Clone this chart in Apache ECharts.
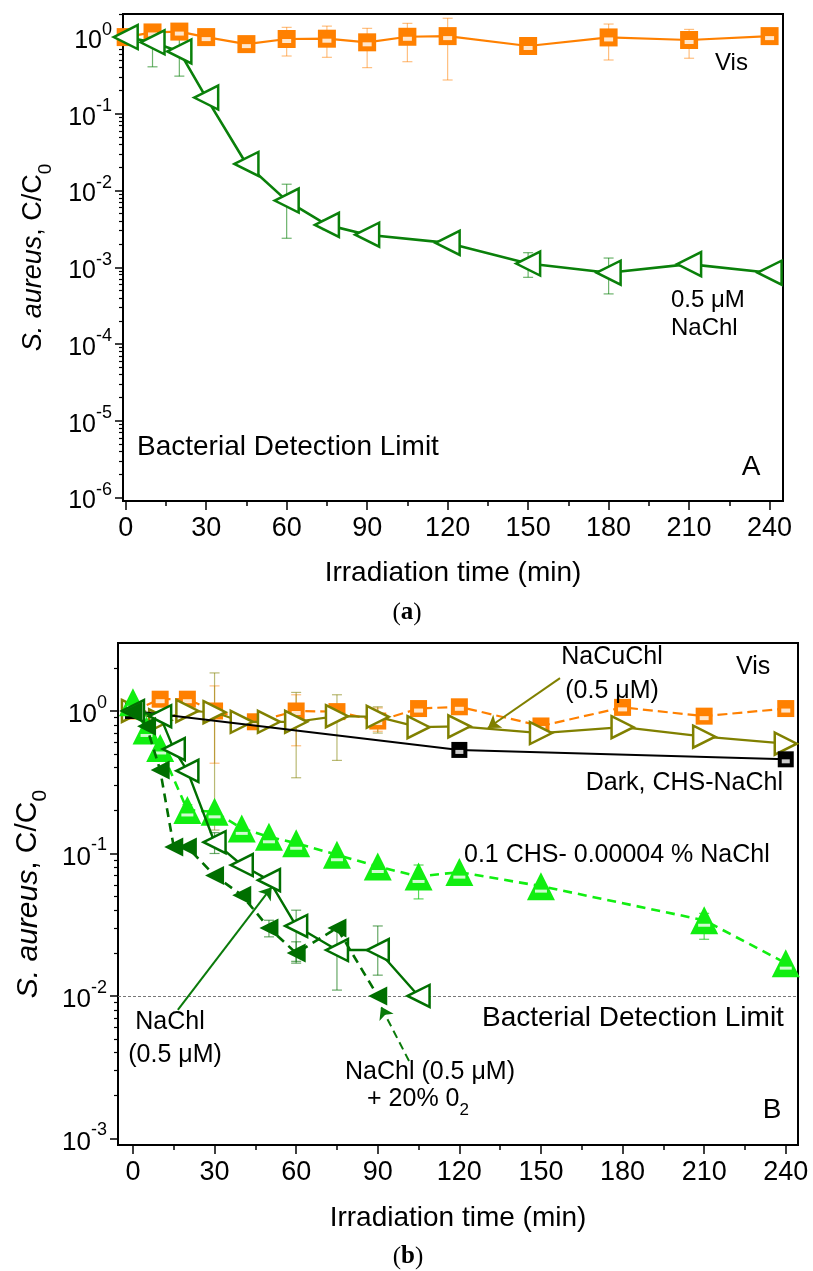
<!DOCTYPE html>
<html>
<head>
<meta charset="utf-8">
<script src="https://cdn.jsdelivr.net/npm/echarts@6/dist/echarts.min.js"></script>
<style>
html,body{margin:0;padding:0;background:#fff;}
#chart{width:813px;height:1271px;}
</style>
</head>
<body>
<div id="chart"></div>
<script>
// ---------- tick values ----------
const ticksX = [0, 30, 60, 90, 120, 150, 180, 210, 240];
const minorTicksX = [15, 45, 75, 105, 135, 165, 195, 225];
const decadesA = [1e-6, 1e-5, 1e-4, 1e-3, 1e-2, 1e-1, 1];
const decadesB = [1e-3, 1e-2, 1e-1, 1];
const detectionLimitA = 1e-5;
const detectionLimitB = 1e-2;

// ---------- Panel A data ----------
const tVisA = [0, 10, 20, 30, 45, 60, 75, 90, 105, 120, 150, 180, 210, 240];
const visA = [1.0, 1.15, 1.18, 1.0, 0.81, 0.945, 0.953, 0.855, 1.01, 1.03, 0.765, 0.99, 0.917, 1.03];
const errVisA = [[45, 0.75, 0.86], [60, 0.567, 1.34], [75, 0.545, 1.39], [90, 0.40, 1.30], [105, 0.478, 1.51], [120, 0.276, 1.76], [180, 0.503, 1.48], [210, 0.53, 1.26]];
const tNaChlA = [0, 10, 20, 30, 45, 60, 75, 90, 120, 150, 180, 210, 240];
const naChlA = [1.0, 0.855, 0.65, 0.163, 0.0222, 0.0074, 0.00357, 0.00266, 0.00208, 0.00112, 0.00085, 0.0011, 0.00085];
const errNaChlA = [[10, 0.41, 1.26], [20, 0.31, 0.96], [60, 0.00239, 0.0121], [75, 0.0031, 0.0041], [150, 0.00074, 0.00155], [180, 0.00045, 0.00132], [210, 0.001, 0.00125]];

// ---------- Panel B data ----------
const tVisB = [0, 10, 20, 30, 45, 60, 75, 90, 105, 120, 150, 180, 210, 240];
const visB = [1.0, 1.21, 1.21, 1.0, 0.84, 1.0, 0.99, 0.85, 1.04, 1.07, 0.785, 1.06, 0.92, 1.04];
const errVisB = [[10, 1.1, 1.35], [30, 0.43, 1.5], [60, 0.57, 1.3], [90, 0.72, 1.05]];
const tCuB = [0, 10, 20, 30, 40, 50, 60, 75, 90, 105, 120, 150, 180, 210, 240];
const cuB = [1.0, 0.86, 1.0, 0.98, 0.84, 0.84, 0.84, 0.92, 0.91, 0.77, 0.78, 0.70, 0.77, 0.66, 0.59];
const errCuB = [[30, 0.146, 1.85], [60, 0.34, 1.35], [75, 0.45, 1.3], [90, 0.70, 1.07]];
const tDarkB = [0, 120, 240];
const darkB = [1.0, 0.533, 0.458];
const tChsB = [0, 5, 10, 20, 30, 40, 50, 60, 75, 90, 105, 120, 150, 210, 240];
const chsB = [1.15, 0.73, 0.55, 0.202, 0.196, 0.15, 0.131, 0.118, 0.098, 0.081, 0.069, 0.074, 0.059, 0.034, 0.017];
const errChsB = [[20, 0.185, 0.22], [105, 0.048, 0.083], [210, 0.025, 0.038]];
const tNaChlB = [0, 10, 15, 20, 30, 40, 50, 60, 75, 90, 105];
const naChlB = [1.0, 0.92, 0.54, 0.38, 0.12, 0.083, 0.065, 0.031, 0.021, 0.021, 0.01];
const errNaChlB = [[30, 0.10, 0.14], [60, 0.017, 0.040], [75, 0.011, 0.029], [90, 0.014, 0.031]];
const tO2B = [0, 5, 10, 15, 20, 30, 40, 50, 60, 75, 90];
const o2B = [1.0, 0.78, 0.385, 0.111, 0.111, 0.070, 0.051, 0.030, 0.020, 0.030, 0.010];
const errO2B = [[50, 0.026, 0.034], [60, 0.0175, 0.024]];

// annotation arrows (data coordinates, panel B): [start, tip]
const arrowCuChl = [[157, 1.70], [130.5, 0.76]];
const arrowNaChl = [[16.5, 0.0080], [51, 0.058]];
const arrowO2 = [[101.5, 0.0035], [91.2, 0.0084]];

// ---------- styling ----------
const FONT = "'Liberation Sans', Arial, sans-serif";
const C_OR = '#ff8000', C_GA = '#0a800a', C_OL = '#808000', C_LG = '#11ee11', C_DG = '#006f00';
const TRI_L = 'path://M0,10 L20,0 L20,20 Z';
const TRI_R = 'path://M0,0 L20,10 L0,20 Z';

const zip = (t, v) => t.map((x, i) => [x, v[i]]);

function supFmt(v) {
  const e = Math.round(Math.log10(v));
  return '{b|10}{s|' + e + '}';
}
const supRich = (fs) => ({
  b: { fontSize: fs, fontFamily: FONT, color: '#000', verticalAlign: 'bottom', lineHeight: fs + 8 },
  s: { fontSize: Math.round(fs * 0.7), fontFamily: FONT, color: '#000', verticalAlign: 'top', lineHeight: fs + 8 }
});
const yTitleRich = (fs) => ({
  i: { fontSize: fs, fontFamily: FONT, fontStyle: 'italic', color: '#000', verticalAlign: 'top', lineHeight: fs + 8 },
  n: { fontSize: fs, fontFamily: FONT, color: '#000', verticalAlign: 'top', lineHeight: fs + 8 },
  sub: { fontSize: Math.round(fs * 0.7), fontFamily: FONT, color: '#000', verticalAlign: 'bottom', lineHeight: fs + 8 }
});

function minorLog(lo, hi, extra) {
  const out = [];
  for (let e = lo; e < hi; e++) for (let m = 2; m <= 9; m++) out.push(m * Math.pow(10, e));
  return out.concat(extra || []);
}

const gridA = { left: 123, top: 14, width: 660, height: 487 };
const gridB = { left: 118, top: 643, width: 680, height: 502 };
const xRangeA = [-1, 245], xRangeB = [-5.5, 244.5];
const yRangeA = [0.9e-6, 2], yRangeB = [0.9e-3, 3];

function mainX(gi, rng, xFs, gap) {
  return {
    type: 'value', gridIndex: gi, min: rng[0], max: rng[1],
    axisLine: { show: true, onZero: false, lineStyle: { color: '#000', width: 2 } },
    axisTick: { show: true, length: 9, lineStyle: { color: '#000', width: 1.5 }, customValues: ticksX },
    axisLabel: { show: true, customValues: ticksX, margin: 14, fontSize: xFs, fontFamily: FONT, color: '#000' },
    splitLine: { show: false },
    name: 'Irradiation time (min)', nameLocation: 'middle', nameGap: gap,
    nameTextStyle: { fontSize: 28, fontFamily: FONT, color: '#000' }
  };
}
function minorX(gi, rng) {
  return {
    type: 'value', gridIndex: gi, min: rng[0], max: rng[1],
    axisLine: { show: false, onZero: false },
    axisTick: { show: true, length: 5, lineStyle: { color: '#000', width: 1.5 }, customValues: minorTicksX },
    axisLabel: { show: false }, splitLine: { show: false }
  };
}
function mainY(gi, rng, decs, fs, gap, tfs) {
  return {
    type: 'log', logBase: 10, gridIndex: gi, min: rng[0], max: rng[1],
    axisLine: { show: true, onZero: false, lineStyle: { color: '#000', width: 2 } },
    axisTick: { show: true, length: 8, lineStyle: { color: '#000', width: 1.5 }, customValues: decs },
    axisLabel: { show: true, customValues: decs, margin: 11, formatter: supFmt, rich: supRich(fs) },
    splitLine: { show: false },
    name: '{i|S. aureus}{n|, C/C}{sub|0}', nameLocation: 'middle', nameGap: gap, nameRotate: 90,
    nameTextStyle: { rich: yTitleRich(tfs) }
  };
}
function minorY(gi, rng, ticks) {
  return {
    type: 'log', logBase: 10, gridIndex: gi, min: rng[0], max: rng[1],
    axisLine: { show: false, onZero: false },
    axisTick: { show: true, length: 4, lineStyle: { color: '#000', width: 1.2 }, customValues: ticks },
    axisLabel: { show: false }, splitLine: { show: false }
  };
}

function lineSeries(ai, name, data, color, symbol, size, opts) {
  opts = opts || {};
  return {
    type: 'line', name: name, xAxisIndex: ai, yAxisIndex: ai, data: data,
    symbol: symbol, symbolSize: size, showSymbol: true, z: opts.z || 3,
    lineStyle: { color: color, width: opts.lw || 2.2, type: opts.dash || 'solid' },
    itemStyle: opts.open ? { color: '#fff', borderColor: color, borderWidth: 2.5 } : { color: color, borderColor: color, borderWidth: 0 },
    markLine: opts.markLine, animation: false
  };
}
function innerMark(ai, data, size, offset, z) {
  return {
    type: 'scatter', xAxisIndex: ai, yAxisIndex: ai, data: data, symbol: 'rect',
    symbolSize: size, symbolOffset: offset, z: z || 4, silent: true,
    itemStyle: { color: '#fff' }, animation: false
  };
}
function errSeries(ai, data, color) {
  return {
    type: 'custom', xAxisIndex: ai, yAxisIndex: ai, data: data, z: 2, silent: true,
    encode: { x: 0, y: [1, 2] }, animation: false,
    renderItem: function (params, api) {
      const x = api.value(0);
      const lo = api.coord([x, api.value(1)]);
      const hi = api.coord([x, api.value(2)]);
      const w = 5;
      const st = { stroke: color, lineWidth: 1.2 };
      return {
        type: 'group', children: [
          { type: 'line', shape: { x1: hi[0], y1: hi[1], x2: lo[0], y2: lo[1] }, style: st },
          { type: 'line', shape: { x1: hi[0] - w, y1: hi[1], x2: hi[0] + w, y2: hi[1] }, style: st },
          { type: 'line', shape: { x1: lo[0] - w, y1: lo[1], x2: lo[0] + w, y2: lo[1] }, style: st }
        ]
      };
    }
  };
}
function detLine(val) {
  return {
    silent: true, symbol: ['none', 'none'], label: { show: false },
    lineStyle: { color: '#777', type: [3, 2], width: 1 },
    data: [{ yAxis: val }]
  };
}
function arrowItem(a, color, dash) {
  return [
    { coord: a[0], lineStyle: { color: color, width: 2, type: dash ? [8, 5] : 'solid' } },
    { coord: a[1] }
  ];
}

const textStyle = (fs) => ({ font: fs + 'px ' + FONT, fill: '#000' });
function txt(x, y, s, fs, align) {
  return { type: 'text', x: x, y: y, z: 50, style: Object.assign(textStyle(fs), { text: s, align: align || 'left', verticalAlign: 'middle' }) };
}

const chart = echarts.init(document.getElementById('chart'), null, { renderer: 'canvas' });
const option = {
  animation: false,
  backgroundColor: '#fff',
  grid: [
    Object.assign({ show: true, borderColor: '#000', borderWidth: 2 }, gridA),
    Object.assign({ show: false }, gridA),
    Object.assign({ show: true, borderColor: '#000', borderWidth: 2 }, gridB),
    Object.assign({ show: false }, gridB)
  ],
  xAxis: [mainX(0, xRangeA, 27, 58), minorX(1, xRangeA), mainX(2, xRangeB, 27, 59), minorX(3, xRangeB)],
  yAxis: [
    mainY(0, yRangeA, decadesA, 25, 68, 27),
    minorY(1, yRangeA, minorLog(-6, 0, [2])),
    mainY(2, yRangeB, decadesB, 26, 66, 30),
    minorY(3, yRangeB, minorLog(-3, 0, [2]))
  ],
  series: [
    // ---- Panel A ----
    errSeries(0, errVisA, 'rgba(255,128,0,0.5)'),
    errSeries(0, errNaChlA, 'rgba(10,128,10,0.6)'),
    lineSeries(0, 'Vis', zip(tVisA, visA), C_OR, 'rect', 18, { z: 3, markLine: detLine(detectionLimitA) }),
    innerMark(0, zip(tVisA, visA), [9, 4], [0, 2], 4),
    lineSeries(0, '0.5 μM NaChl', zip(tNaChlA, naChlA), C_GA, TRI_L, 24, { open: true, lw: 2.6, z: 5 }),
    // ---- Panel B ----
    errSeries(2, errVisB, 'rgba(255,128,0,0.5)'),
    errSeries(2, errCuB, 'rgba(128,128,0,0.55)'),
    errSeries(2, errChsB, 'rgba(17,200,17,0.7)'),
    errSeries(2, errNaChlB, 'rgba(0,111,0,0.6)'),
    errSeries(2, errO2B, 'rgba(0,111,0,0.6)'),
    lineSeries(2, 'Vis', zip(tVisB, visB), C_OR, 'rect', 17, { dash: [10, 5], z: 3, markLine: detLine(detectionLimitB) }),
    innerMark(2, zip(tVisB, visB), [9, 4], [0, 2], 4),
    lineSeries(2, 'NaCuChl (0.5 μM)', zip(tCuB, cuB), C_OL, TRI_R, 22, { open: true, z: 5 }),
    lineSeries(2, 'Dark, CHS-NaChl', zip(tDarkB, darkB), '#000', 'rect', 16, { lw: 2, z: 6,
      markLine: { silent: true, symbol: ['none', 'arrow'], symbolSize: 12, label: { show: false },
        data: [arrowItem(arrowCuChl, C_OL, false), arrowItem(arrowNaChl, '#0a7a0a', false), arrowItem(arrowO2, '#0a7a0a', true)] } }),
    innerMark(2, zip(tDarkB, darkB), [8, 4], [0, 2], 7),
    lineSeries(2, '0.1 CHS- 0.00004 % NaChl', zip(tChsB, chsB), C_LG, 'triangle', 28, { dash: [9, 6], lw: 2.6, z: 8 }),
    innerMark(2, zip(tChsB, chsB), [12, 3], [0, 5], 9),
    lineSeries(2, 'NaChl (0.5 μM)', zip(tNaChlB, naChlB), C_DG, TRI_L, 22, { open: true, lw: 2.4, z: 10 }),
    lineSeries(2, 'NaChl (0.5 μM) + 20% O2', zip(tO2B, o2B), C_DG, TRI_L, 19, { dash: [9, 6], lw: 2.6, z: 11 })
  ],
  graphic: [
    // panel A
    txt(715, 63, 'Vis', 24),
    txt(671, 300, '0.5 μM', 24),
    txt(671, 328, 'NaChl', 24),
    txt(137, 447, 'Bacterial Detection Limit', 28),
    txt(751, 467, 'A', 28, 'center'),
    { type: 'text', x: 407, y: 613, style: { text: '({b|a})', font: "25px 'Liberation Serif', serif", fill: '#000', align: 'center', verticalAlign: 'middle',
      rich: { b: { fontFamily: "'Liberation Serif', serif", fontWeight: 'bold', fontSize: 25 } } } },
    // panel B
    txt(612, 657, 'NaCuChl', 25, 'center'),
    txt(612, 691, '(0.5 μM)', 25, 'center'),
    txt(736, 667, 'Vis', 25),
    txt(783, 783, 'Dark, CHS-NaChl', 25, 'right'),
    txt(464, 855, '0.1 CHS- 0.00004 % NaChl', 25),
    txt(482, 1018, 'Bacterial Detection Limit', 28),
    txt(170, 1022, 'NaChl', 25, 'center'),
    txt(175, 1055, '(0.5 μM)', 25, 'center'),
    txt(430, 1072, 'NaChl (0.5 μM)', 25, 'center'),
    { type: 'text', x: 418, y: 1103, z: 50, style: { text: '{n|+ 20% 0}{s|2}', align: 'center', verticalAlign: 'middle',
      rich: { n: { fontSize: 25, fontFamily: FONT, verticalAlign: 'top', lineHeight: 32 }, s: { fontSize: 17, fontFamily: FONT, verticalAlign: 'bottom', lineHeight: 32 } } } },
    txt(772, 1110, 'B', 28, 'center'),
    { type: 'text', x: 408, y: 1257, style: { text: '({b|b})', font: "25px 'Liberation Serif', serif", fill: '#000', align: 'center', verticalAlign: 'middle',
      rich: { b: { fontFamily: "'Liberation Serif', serif", fontWeight: 'bold', fontSize: 25 } } } }
  ]
};
chart.setOption(option);
</script>
</body>
</html>
